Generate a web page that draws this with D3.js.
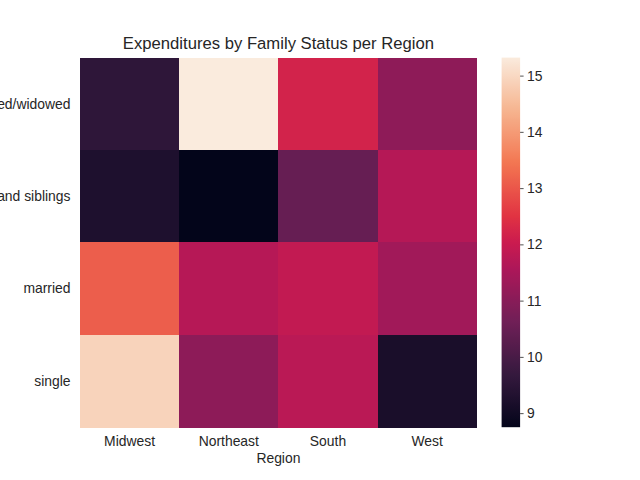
<!DOCTYPE html>
<html><head><meta charset="utf-8">
<script src="https://cdn.jsdelivr.net/npm/d3@7"></script>
<style>body{margin:0;background:#fff}svg{display:block}text{font-family:"Liberation Sans",Arial,sans-serif;fill:#262626}</style>
</head><body>
<script>
const regions = ["Midwest", "Northeast", "South", "West"];
const statuses = ["divorced/widowed", "parents and siblings", "married", "single"];
const divorcedWidowed = [9.55, 15.32, 12.19, 11.09];
const parentsSiblings = [9.26, 8.75, 10.47, 11.69];
const married = [13.1, 11.7, 11.9, 11.38];
const single = [14.91, 11.07, 11.77, 9.18];
const rows = [divorcedWidowed, parentsSiblings, married, single];
const cbarTicks = [9, 10, 11, 12, 13, 14, 15];
const rocketPos = [0, 1/7, 2/7, 3/7, 0.5, 4/7, 5/7, 6/7, 1];
const rocketStops = ["#03051a", "#35193e", "#701f57", "#ad1759", "#cb1b4f", "#e13342", "#f37651", "#f6b48f", "#faebdd"];

const W = 640, H = 480;
const svg = d3.select("body").append("svg").attr("width", W).attr("height", H);
const L = 80, R = 476.8, T = 57.6, B = 427.2;
const all = rows.flat();
const vmin = d3.min(all), vmax = d3.max(all);
const rocket = d3.scaleLinear().domain(rocketPos).range(rocketStops).interpolate(d3.interpolateRgb).clamp(true);
const color = v => rocket((v - vmin) / (vmax - vmin));

const x = d3.scaleBand().domain(regions).range([L, R]);
const y = d3.scaleBand().domain(statuses).range([T, B]);

const cells = [];
statuses.forEach((s, i) => regions.forEach((r, j) => cells.push({s, r, v: rows[i][j]})));
svg.append("g").selectAll("rect").data(cells).join("rect")
  .attr("x", d => x(d.r)).attr("y", d => y(d.s))
  .attr("width", x.bandwidth() + 0.5).attr("height", y.bandwidth() + 0.5)
  .attr("fill", d => color(d.v)).attr("shape-rendering", "crispEdges");

svg.append("g").selectAll("text").data(regions).join("text")
  .attr("x", d => x(d) + x.bandwidth() / 2).attr("y", 446)
  .attr("text-anchor", "middle").attr("font-size", "13.9px").text(d => d);
svg.append("g").selectAll("text").data(statuses).join("text")
  .attr("x", 70.5).attr("y", d => y(d) + y.bandwidth() / 2).attr("dy", "0.35em")
  .attr("text-anchor", "end").attr("font-size", "13.9px").text(d => d);

svg.append("text").attr("x", (L + R) / 2).attr("y", 463).attr("text-anchor", "middle")
  .attr("font-size", "13.9px").text("Region");
svg.append("text").attr("x", (L + R) / 2).attr("y", 49.3).attr("text-anchor", "middle")
  .attr("font-size", "16.67px").text("Expenditures by Family Status per Region");

const cbL = 501.6, cbW = 18.5;
const defs = svg.append("defs");
const grad = defs.append("linearGradient").attr("id", "cb").attr("x1", 0).attr("y1", 1).attr("x2", 0).attr("y2", 0);
d3.range(0, 1.0001, 0.01).forEach(t => grad.append("stop").attr("offset", t).attr("stop-color", rocket(t)));
svg.append("rect").attr("x", cbL).attr("y", T).attr("width", cbW).attr("height", B - T).attr("fill", "url(#cb)");
const cy = d3.scaleLinear().domain([vmin, vmax]).range([B, T]);
const axis = d3.axisRight(cy).tickValues(cbarTicks).tickSize(3.5).tickPadding(3.5).tickFormat(d3.format("d"));
const ag = svg.append("g").attr("transform", `translate(${cbL + cbW},0)`).call(axis);
ag.select(".domain").remove();
ag.selectAll("line").attr("stroke", "#262626").attr("stroke-width", 0.8);
ag.selectAll("text").attr("font-size", "13.9px").attr("font-family", "Liberation Sans, Arial, sans-serif").attr("fill", "#262626");
</script>
</body></html>
